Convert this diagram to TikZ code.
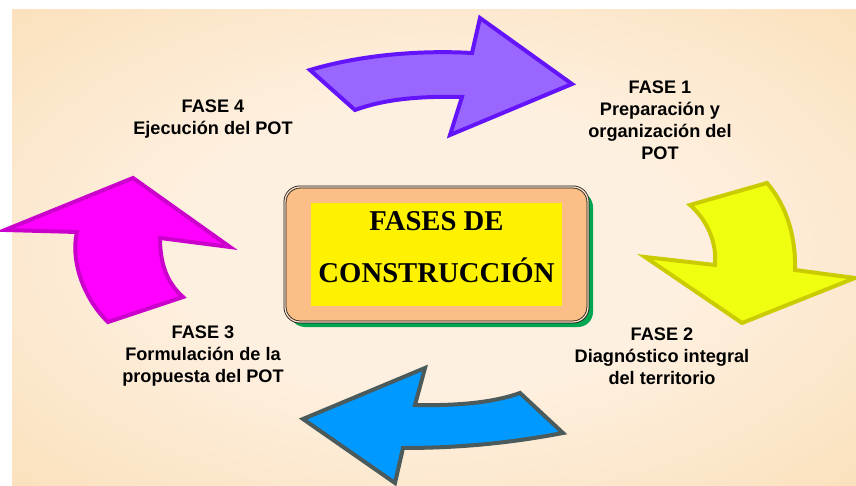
\documentclass[tikz,border=0pt]{standalone}
\usepackage{fontspec}
\setmainfont{Liberation Serif}
\setsansfont{Liberation Sans}
\usetikzlibrary{shadows}
\definecolor{fondoin}{HTML}{FEF0E0}
\definecolor{fondoout}{HTML}{F8D6A4}
\definecolor{durazno}{HTML}{FABE86}
\definecolor{verde}{HTML}{00A651}
\definecolor{lila}{HTML}{9966FF}
\definecolor{lilaborde}{HTML}{6414FA}
\definecolor{limon}{HTML}{F0FF10}
\definecolor{limonborde}{HTML}{CACC00}
\definecolor{celeste}{HTML}{0099FF}
\definecolor{celesteborde}{HTML}{4B5A5A}
\definecolor{fucsia}{HTML}{FF00FF}
\definecolor{fucsiaborde}{HTML}{CC00CC}
\pgfdeclareradialshading{fondo}{\pgfpoint{0bp}{0bp}}{color(0bp)=(fondoin); color(15bp)=(fondoin); color(50bp)=(fondoout); color(75bp)=(fondoout)}
\tikzset{
  flecha/.style={line width=3.4pt, line join=miter},
  fase/.style={align=center, inner sep=0pt, text=black,
    font=\sffamily\bfseries\fontsize{15.5}{18.8}\selectfont},
}
\newcommand{\fase}[3]{%
 \node [fase] ({#1}) at ({#2}) {#3};%
}

\begin{document}
\begin{tikzpicture}[x=0.03cm, y=-0.03cm]
  \useasboundingbox (0,0) rectangle (856,486);
  \shade [shading=fondo] (12,10) rectangle (856,486);
  % flechas
  \draw [flecha, draw=lilaborde, fill=lila]
    (310,70) .. controls (360,55) and (420,50) .. (472,53) -- (480,18) -- (572,84)
    -- (450,135) -- (462,97) .. controls (420,96) and (385,99) .. (355,110) -- cycle;
  \draw [flecha, draw=limonborde, fill=limon]
    (690,205) -- (767,183) .. controls (788,207) and (796,240) .. (795,270) -- (855,278)
    -- (742,323) -- (645,257) -- (715,265) .. controls (717,242) and (707,220) .. (690,205) -- cycle;
  \draw [flecha, draw=celesteborde, fill=celeste]
    (520,393) -- (563,433) .. controls (510,443) and (460,448) .. (403,448) -- (395,483)
    -- (303,419) -- (425,368) -- (415,405) .. controls (460,406) and (495,402) .. (520,393) -- cycle;
  \draw [flecha, draw=fucsiaborde, fill=fucsia]
    (133,178) -- (230,247) -- (160,238) .. controls (160,262) and (166,282) .. (183,297)
    -- (108,322) .. controls (85,300) and (70,262) .. (77,232) -- (5,230) -- cycle;
  % recuadro central
  \node (marco) at (436.5,254.5) [draw=black!90, double=durazno!50!white, double distance=1.1pt,
    line width=.7pt, fill=durazno, rounded corners=.45cm, minimum width=9.09cm, minimum height=4.05cm,
    drop shadow={fill=verde, opacity=1, shadow xshift=.15cm, shadow yshift=-.15cm}] {};
  \node (cuadro) at (marco) [fill=yellow, minimum width=7.53cm, minimum height=3.09cm, inner sep=0pt] {};
  \node (titulo) at (436.5,247) [align=center, inner sep=0pt,
    font=\bfseries\fontsize{24.5}{44}\selectfont] {FASES DE\\CONSTRUCCIÓN};
  \fase{f1}{660,120}{FASE 1\\Preparación y\\organización del\\POT}
  \fase{f2}{662,356}{FASE 2\\Diagnóstico integral\\del territorio}
  \fase{f3}{203,356}{FASE 3\\Formulación de la\\propuesta del POT}
  \fase{f4}{213,119}{FASE 4\\Ejecución del POT}
\end{tikzpicture}
\end{document}
